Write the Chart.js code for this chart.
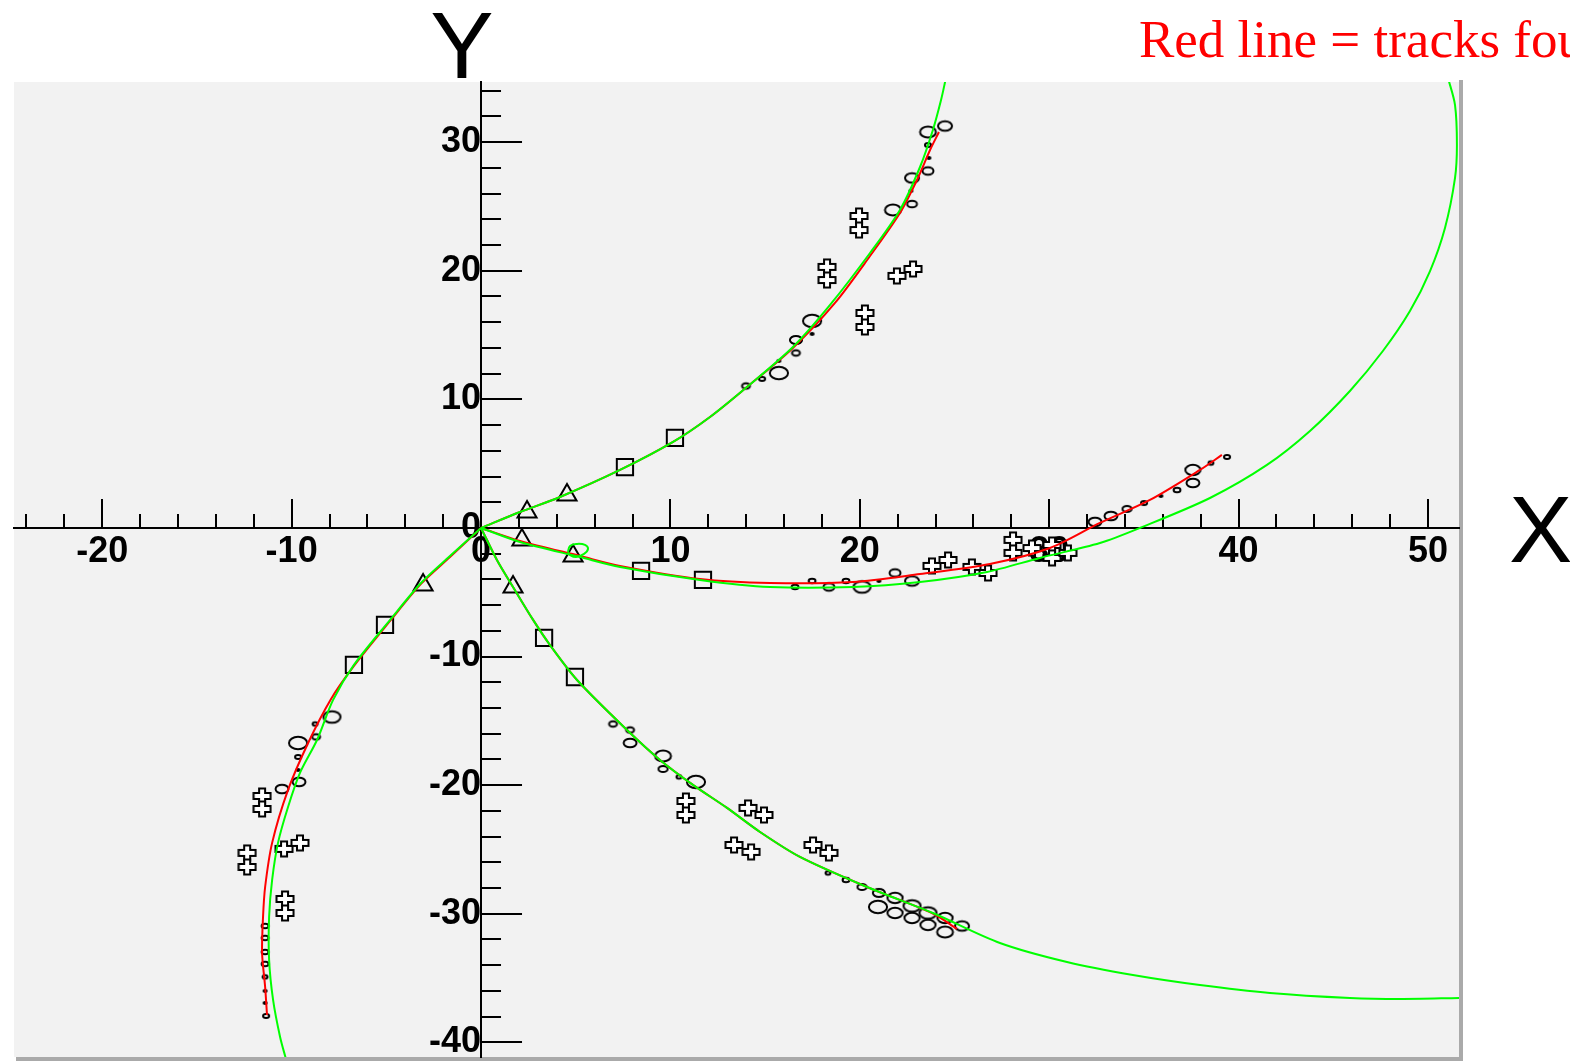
<!doctype html>
<html lang="en">
<head>
<meta charset="utf-8">
<title>Track display</title>
<style>
  * { margin: 0; padding: 0; }
  body { background: #fff; overflow: hidden; }
  canvas { display: block; }
</style>
</head>
<body>
<canvas id="myChart" width="1570" height="1061"></canvas>
<script src="https://cdn.jsdelivr.net/npm/chart.js/dist/chart.umd.min.js"></script>
<script>
// ---- data (x, y in detector units) ----

// true tracks (green)
const greenUp = [[0,0],[2.06,1.24],[4.17,2.41],[7.34,4.51],[10.14,6.69],[12.09,8.63],[14.04,10.96],[16.47,14.07],[18.43,17.34],[20.54,21.38],[22.12,24.73],[23.18,28.07],[23.86,30.95],[24.29,33.28],[24.55,35.0]]
const greenMid = [[0,0],[2.06,-1.09],[5.23,-2.26],[7.34,-3.03],[11.56,-4.04],[15.26,-4.59],[19.64,-4.59],[23.18,-4.2],[26.72,-3.42],[29.51,-2.33],[32.68,-1.17],[34.79,0],[38.49,2.33],[41.5,4.9],[43.77,7.54],[45.88,10.65],[47.62,13.76],[49.05,16.87],[50.11,19.98],[50.9,23.33],[51.43,27.22],[51.53,29.78],[51.43,32.89],[51.06,35.0]]
const greenLow = [[0,0],[0.84,-2.49],[1.69,-4.59],[2.75,-7.15],[3.64,-9.1],[5.07,-11.82],[7.71,-15.71],[9.45,-18.04],[11.19,-19.98],[12.99,-21.77],[14.73,-23.64],[16.84,-25.58],[20.38,-27.92],[23.86,-29.94],[27.4,-32.27],[30.94,-33.75],[34.42,-34.76],[37.96,-35.54],[41.66,-36.16],[45.88,-36.55],[48.52,-36.63],[51.69,-36.55]]
const greenLeft = [[0,0],[-1.64,-2.18],[-3.17,-4.28],[-4.8,-7.15],[-6.71,-10.65],[-7.81,-13.37],[-8.66,-16.49],[-9.56,-19.05],[-10.19,-21.7],[-10.72,-24.49],[-11.03,-27.37],[-11.19,-30.25],[-11.19,-33.59],[-10.98,-36.7],[-10.61,-39.58],[-10.3,-41.3]]
const greenLoop = [[4.59,-1.87],[4.7,-1.4],[5.07,-1.24],[5.49,-1.32],[5.65,-1.63],[5.44,-2.02],[5.02,-2.26],[4.7,-2.1],[4.59,-1.87]]

// found tracks (red)
const redUp = [[0,0],[2.06,1.24],[4.17,2.41],[7.34,4.51],[10.14,6.69],[12.09,8.63],[14.04,10.96],[16.47,14.0],[18.69,17.5],[20.54,21.15],[22.12,24.49],[23.02,27.06],[23.71,29.39],[24.18,30.79]]
const redMid = [[0,0],[2.06,-1.01],[5.23,-2.18],[7.34,-2.95],[11.56,-3.97],[15.26,-4.28],[19.64,-4.2],[23.18,-3.58],[26.87,-2.8],[30.04,-1.56],[32.68,0.39],[35.32,2.18],[37.96,4.51],[39.12,5.68]]
const redLow = [[0,0],[0.84,-2.49],[1.69,-4.59],[2.75,-7.15],[3.64,-9.1],[5.07,-11.82],[7.71,-15.71],[9.45,-18.04],[11.19,-19.98],[12.99,-21.77],[14.73,-23.64],[16.84,-25.58],[20.38,-27.92],[23.86,-29.98],[25.13,-31.18]]
const redLeft = [[0,0],[-1.64,-2.26],[-3.17,-4.35],[-4.8,-7.23],[-6.71,-10.73],[-7.95,-13.37],[-9.13,-16.72],[-10.19,-20.37],[-11.03,-24.49],[-11.4,-27.92],[-11.51,-30.25],[-11.56,-33.05],[-11.4,-35.69],[-11.3,-37.87]]

// vertex hits
const triangles = [[2.43,1.24],[4.54,2.57],[2.16,-0.93],[4.86,-2.18],[1.69,-4.59],[-3.06,-4.43]]
const squares = [[7.6,4.74],[10.24,7.0],[8.45,-3.34],[11.72,-4.04],[3.33,-8.55],[4.96,-11.59],[-5.07,-7.54],[-6.71,-10.65]]

// outer layer hits
const crosses = [
  [19.96,24.26],[19.96,23.17],[18.27,20.3],[18.27,19.28],[21.96,19.6],[22.81,20.14],[20.27,16.72],[20.27,15.63],
  [10.82,-21.23],[10.82,-22.32],[14.1,-21.77],[14.94,-22.32],[13.36,-24.65],[14.26,-25.19],[17.53,-24.65],[18.37,-25.27],
  [-11.56,-20.84],[-11.56,-21.85],[-12.35,-25.27],[-12.35,-26.36],[-10.4,-24.96],[-9.56,-24.49],[-10.35,-28.85],[-10.35,-29.94],
  [23.81,-2.95],[24.66,-2.49],[25.92,-3.03],[26.77,-3.5],[28.09,-0.93],[28.09,-1.94],[29.09,-1.56],[30.15,-1.32],[30.15,-2.33],[30.99,-1.94]
]

// tracker hits: x, y, error radius
const hits = [
  [13.99,11.04,0.21],[14.84,11.59,0.16],[15.73,12.05,0.48],[15.73,12.99,0.08],[16.63,13.61,0.21],[16.63,14.62,0.32],[17.48,15.09,0.08],[17.48,16.1,0.48],
  [21.75,24.73,0.42],[22.76,25.19,0.26],[22.7,26.21,0.08],[22.76,27.22,0.37],[23.6,27.76,0.29],[23.65,28.77,0.08],[23.6,29.78,0.16],[23.6,30.79,0.42],[24.5,31.26,0.37],
  [16.58,-4.59,0.18],[17.48,-4.12,0.18],[18.37,-4.59,0.29],[19.27,-4.12,0.18],[20.12,-4.59,0.45],[21.01,-4.12,0.08],[21.86,-3.5,0.29],[22.76,-4.12,0.37],
  [32.42,0.47,0.34],[33.26,0.93,0.34],[34.11,1.48,0.24],[35.01,1.94,0.16],[35.9,2.49,0.08],[36.75,2.95,0.18],[37.59,4.51,0.4],[37.59,3.5,0.34],[38.54,5.05,0.13],[39.39,5.52,0.16],
  [6.97,-15.24,0.21],[7.87,-15.71,0.21],[7.87,-16.72,0.34],[9.61,-17.73,0.42],[9.61,-18.74,0.24],[10.45,-19.36,0.13],[11.35,-19.75,0.48],
  [18.32,-26.83,0.13],[19.27,-27.37,0.18],[20.12,-27.92,0.24],[21.01,-28.38,0.32],[20.96,-29.47,0.48],[21.86,-28.77,0.4],[21.86,-29.94,0.4],[22.76,-29.39,0.45],[22.76,-30.33,0.4],
  [23.6,-29.94,0.45],[23.6,-30.87,0.4],[24.5,-30.33,0.4],[24.5,-31.42,0.42],[25.4,-30.95,0.37],
  [-7.87,-14.7,0.45],[-8.76,-15.24,0.13],[-8.71,-16.25,0.21],[-9.66,-16.72,0.48],[-9.66,-17.81,0.16],[-9.66,-18.82,0.08],[-9.61,-19.75,0.34],[-10.51,-20.3,0.34],
  [-11.4,-30.95,0.18],[-11.4,-31.88,0.18],[-11.4,-32.97,0.18],[-11.4,-33.9,0.18],[-11.4,-34.91,0.13],[-11.4,-36.0,0.08],[-11.4,-36.94,0.08],[-11.35,-37.95,0.16]
]

const xRange = [-24.66, 51.64]
const yRange = [-41.14, 34.68]

// ---- marker images ----
const hitCache = {}
function hitImage(chart, r) {
  const sx = chart.scales.x, sy = chart.scales.y
  const rx = Math.max(Math.abs(sx.getPixelForValue(r) - sx.getPixelForValue(0)), 1.2)
  const ry = Math.max(Math.abs(sy.getPixelForValue(r) - sy.getPixelForValue(0)), 0.9)
  const key = rx.toFixed(1) + '_' + ry.toFixed(1)
  if (!hitCache[key]) {
    const c = document.createElement('canvas')
    c.width = Math.ceil(rx * 2 + 5)
    c.height = Math.ceil(ry * 2 + 5)
    const g = c.getContext('2d')
    g.strokeStyle = '#000'
    g.lineWidth = 2
    g.beginPath()
    g.ellipse(c.width / 2, c.height / 2, rx, ry, 0, 0, Math.PI * 2)
    g.stroke()
    hitCache[key] = c
  }
  return hitCache[key]
}

function crossImage() {
  const c = document.createElement('canvas')
  c.width = 20; c.height = 18
  const g = c.getContext('2d')
  const l = 1.5, r = 18.5, t = 1.5, b = 16.5
  const cx = 10, cy = 9, a = 3
  g.beginPath()
  g.moveTo(cx - a, t); g.lineTo(cx + a, t); g.lineTo(cx + a, cy - a)
  g.lineTo(r, cy - a); g.lineTo(r, cy + a); g.lineTo(cx + a, cy + a)
  g.lineTo(cx + a, b); g.lineTo(cx - a, b); g.lineTo(cx - a, cy + a)
  g.lineTo(l, cy + a); g.lineTo(l, cy - a); g.lineTo(cx - a, cy - a)
  g.closePath()
  g.fillStyle = '#fff'; g.fill()
  g.strokeStyle = '#000'; g.lineWidth = 2; g.stroke()
  return c
}
const crossPic = crossImage()

// ---- datasets ----
const toXY = pts => pts.map(p => ({x: p[0], y: p[1]}))

function trackSet(pts, color, order, tension) {
  return {
    data: toXY(pts),
    showLine: true,
    borderColor: color,
    borderWidth: 2,
    pointRadius: 0,
    tension: tension,
    fill: false,
    order: order
  }
}

function markerSet(pts, style, radius, order) {
  return {
    data: toXY(pts),
    pointStyle: style,
    pointRadius: radius,
    pointBorderColor: '#000',
    pointBackgroundColor: 'rgba(0,0,0,0)',
    pointBorderWidth: 2,
    order: order
  }
}

const data = {
  datasets: [
    trackSet(greenUp, '#00ff00', 0, 0.3),
    trackSet(greenMid, '#00ff00', 0, 0.3),
    trackSet(greenLow, '#00ff00', 0, 0.3),
    trackSet(greenLeft, '#00ff00', 0, 0.3),
    trackSet(greenLoop, '#00ff00', 0, 0.45),
    trackSet(redUp, '#ff0000', 1, 0.3),
    trackSet(redMid, '#ff0000', 1, 0.3),
    trackSet(redLow, '#ff0000', 1, 0.3),
    trackSet(redLeft, '#ff0000', 1, 0.3),
    markerSet(triangles, 'triangle', 11, 2),
    markerSet(squares, 'rect', 11.5, 2),
    markerSet(crosses, crossPic, 9, 3),
    {
      data: hits.map(h => ({x: h[0], y: h[1], r: h[2]})),
      pointStyle: (ctx) => ctx.raw ? hitImage(ctx.chart, ctx.raw.r) : 'circle',
      pointRadius: 5,
      order: 4
    }
  ]
}

// frame background, like the pad
const frame = {
  id: 'frame',
  beforeDraw(chart) {
    const {ctx, chartArea: {left, top, right, bottom}} = chart
    ctx.save()
    ctx.fillStyle = '#fff'
    ctx.fillRect(0, 0, chart.width, chart.height)
    ctx.fillStyle = '#f2f2f2'
    ctx.fillRect(left, top, right - left, bottom - top)
    ctx.fillStyle = '#aaaaaa'
    ctx.fillRect(right, top - 2, 4, bottom - top + 6)
    ctx.fillRect(left + 2, bottom, right - left + 2, 4)
    ctx.restore()
  }
}

// tick marks drawn on the inner side of the axes
const axisTicks = {
  id: 'axisTicks',
  beforeDatasetsDraw(chart) {
    const {ctx, scales: {x, y}} = chart
    const x0 = x.getPixelForValue(0)
    const y0 = y.getPixelForValue(0)
    ctx.save()
    ctx.strokeStyle = '#000'
    ctx.lineWidth = 2
    ctx.beginPath()
    for (let v = Math.ceil(x.min / 2) * 2; v <= x.max; v += 2) {
      const px = Math.round(x.getPixelForValue(v))
      const len = v % 10 === 0 ? 29 : 14
      ctx.moveTo(px, y0)
      ctx.lineTo(px, y0 - len)
    }
    for (let v = Math.ceil(y.min / 2) * 2; v <= y.max; v += 2) {
      const py = Math.round(y.getPixelForValue(v))
      const len = v % 10 === 0 ? 41 : 20
      ctx.moveTo(x0, py)
      ctx.lineTo(x0 + len, py)
    }
    ctx.stroke()
    ctx.restore()
  },
  afterDraw(chart) {
    const {ctx, scales: {x, y}} = chart
    ctx.save()
    ctx.fillStyle = '#000'
    ctx.font = '95px "Liberation Sans", Arial, sans-serif'
    ctx.textBaseline = 'alphabetic'
    ctx.textAlign = 'center'
    ctx.fillText('Y', x.getPixelForValue(0) - 19, 78)
    ctx.textAlign = 'left'
    ctx.fillText('X', 1509, y.getPixelForValue(0) + 34)
    ctx.fillStyle = '#ff0000'
    ctx.font = '53px "Liberation Serif", "Times New Roman", serif'
    ctx.fillText('Red line = tracks found', 1139, 57)
    ctx.restore()
  }
}

// axes sit inside the frame, so they must not push the frame edges
function noPadding(scale) {
  scale.paddingLeft = 0
  scale.paddingRight = 0
  scale.paddingTop = 0
  scale.paddingBottom = 0
}

const tickFont = {family: '"Liberation Sans", Arial, sans-serif', weight: 'bold', size: 36}

const config = {
  type: 'scatter',
  data,
  options: {
    responsive: false,
    animation: false,
    events: [],
    layout: {autoPadding: false, padding: {left: 14, right: 111, top: 82, bottom: 4}},
    plugins: {legend: {display: false}, tooltip: {enabled: false}},
    scales: {
      x: {
        type: 'linear',
        position: {y: 0},
        min: xRange[0],
        max: xRange[1],
        afterFit: noPadding,
        grid: {display: false, drawTicks: false},
        border: {display: true, color: '#000', width: 2},
        ticks: {stepSize: 10, includeBounds: false, padding: 3, color: '#000', font: tickFont, maxRotation: 0, autoSkip: false}
      },
      y: {
        type: 'linear',
        position: {x: 0},
        min: yRange[0],
        max: yRange[1],
        afterFit: noPadding,
        grid: {display: false, drawTicks: false},
        border: {display: true, color: '#000', width: 2},
        ticks: {stepSize: 10, includeBounds: false, padding: 10, color: '#000', font: tickFont, autoSkip: false}
      }
    }
  },
  plugins: [frame, axisTicks]
}

const myChart = new Chart(document.getElementById('myChart'), config)
</script>
</body>
</html>
